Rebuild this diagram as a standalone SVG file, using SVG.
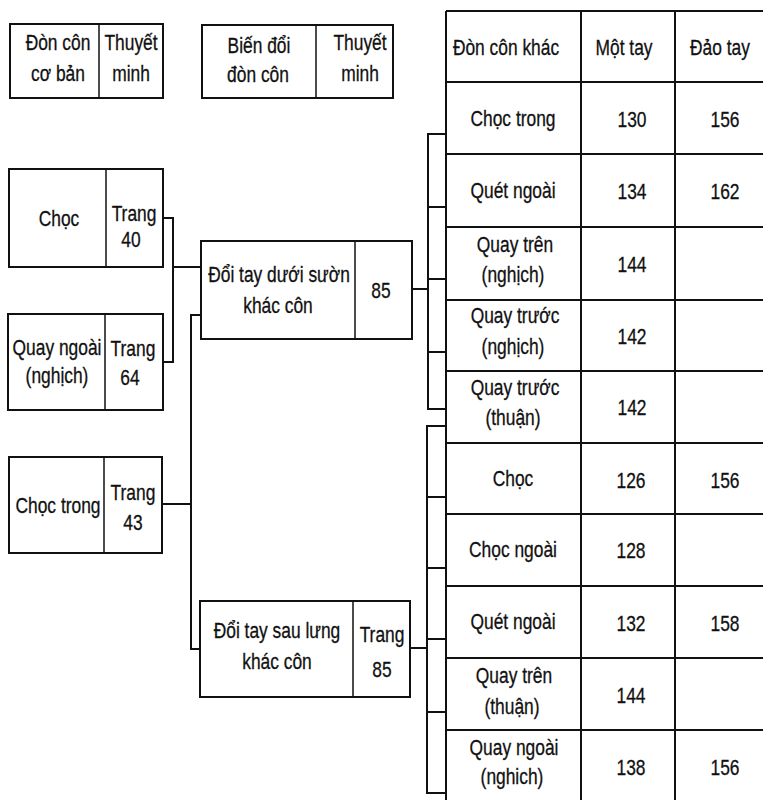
<svg xmlns="http://www.w3.org/2000/svg" width="763" height="800" viewBox="0 0 763 800">
<style>
  .box { fill: #fff; stroke: #111; stroke-width: 2; }
  .div { stroke: #111; stroke-width: 1.5; fill: none; }
  .ln { stroke: #111; stroke-width: 2; fill: none; }
  .conn { stroke: #111; stroke-width: 2; fill: none; stroke-linecap: square; }
  text { font-family: "Liberation Sans", Arial, sans-serif; font-size: 22px; fill: #111; stroke: #111; stroke-width: 0.3; text-anchor: middle;
         transform: scaleX(0.79); transform-box: fill-box; transform-origin: center; }
</style>
<rect width="763" height="800" fill="#fff"/>

<!-- header boxes -->
<g id="hdr-basic">
  <rect class="box" x="10" y="24" width="153" height="74"/>
  <line class="div" x1="99" y1="24" x2="99" y2="98"/>
  <text x="58" y="50">Đòn côn</text>
  <text x="58" y="81">cơ bản</text>
  <text x="131" y="50">Thuyết</text>
  <text x="131" y="81">minh</text>
</g>
<g id="hdr-variant">
  <rect class="box" x="202" y="25" width="191" height="73"/>
  <line class="div" x1="316" y1="25" x2="316" y2="98"/>
  <text x="259" y="53">Biến đổi</text>
  <text x="258" y="82">đòn côn</text>
  <text x="360" y="50">Thuyết</text>
  <text x="360" y="81">minh</text>
</g>

<!-- connectors -->
<g id="connectors">
  <polyline class="conn" points="163,218 173,218 173,362 163,362"/>
  <line class="conn" x1="173" y1="267" x2="201" y2="267"/>
  <line class="conn" x1="162" y1="504" x2="191" y2="504"/>
  <polyline class="conn" points="201,315 191,315 191,649 200,649"/>
  <line class="conn" x1="412" y1="289" x2="428" y2="289"/>
  <line class="conn" x1="428" y1="134" x2="428" y2="409"/>
  <line class="conn" x1="428" y1="134" x2="446" y2="134"/>
  <line class="conn" x1="428" y1="207" x2="446" y2="207"/>
  <line class="conn" x1="428" y1="279" x2="446" y2="279"/>
  <line class="conn" x1="428" y1="352" x2="446" y2="352"/>
  <line class="conn" x1="428" y1="409" x2="446" y2="409"/>
  <line class="conn" x1="410" y1="648" x2="427" y2="648"/>
  <line class="conn" x1="427" y1="426" x2="427" y2="793"/>
  <line class="conn" x1="427" y1="426" x2="446" y2="426"/>
  <line class="conn" x1="427" y1="497" x2="446" y2="497"/>
  <line class="conn" x1="427" y1="568" x2="446" y2="568"/>
  <line class="conn" x1="427" y1="639" x2="446" y2="639"/>
  <line class="conn" x1="427" y1="712" x2="446" y2="712"/>
  <line class="conn" x1="427" y1="793" x2="446" y2="793"/>
</g>

<!-- basic moves -->
<g id="n-choc">
  <rect class="box" x="9" y="169" width="154" height="98"/>
  <line class="div" x1="106" y1="169" x2="106" y2="267"/>
  <text x="59" y="226">Chọc</text>
  <text x="134" y="221">Trang</text>
  <text x="131" y="247">40</text>
</g>
<g id="n-quay-ngoai">
  <rect class="box" x="8" y="314" width="155" height="96"/>
  <line class="div" x1="105" y1="314" x2="105" y2="410"/>
  <text x="57" y="355">Quay ngoài</text>
  <text x="57" y="383">(nghịch)</text>
  <text x="133" y="356">Trang</text>
  <text x="130" y="385">64</text>
</g>
<g id="n-choc-trong">
  <rect class="box" x="9" y="457" width="153" height="96"/>
  <line class="div" x1="104" y1="457" x2="104" y2="553"/>
  <text x="58" y="513">Chọc trong</text>
  <text x="133" y="500">Trang</text>
  <text x="133" y="530">43</text>
</g>

<!-- variants -->
<g id="n-doi-tay-duoi-suon">
  <rect class="box" x="201" y="241" width="211" height="98"/>
  <line class="div" x1="355" y1="241" x2="355" y2="339"/>
  <text x="279" y="282">Đổi tay dưới sườn</text>
  <text x="278" y="313">khác côn</text>
  <text x="381" y="298">85</text>
</g>
<g id="n-doi-tay-sau-lung">
  <rect class="box" x="200" y="601" width="210" height="96"/>
  <line class="div" x1="353" y1="601" x2="353" y2="697"/>
  <text x="277" y="638">Đổi tay sau lưng</text>
  <text x="277" y="669">khác côn</text>
  <text x="382" y="642">Trang</text>
  <text x="382" y="677">85</text>
</g>

<!-- table -->
<g id="table">
  <g id="table-grid">
    <line class="ln" x1="446" y1="11" x2="763" y2="11"/>
    <line class="ln" x1="446" y1="82" x2="763" y2="82"/>
    <line class="ln" x1="446" y1="154" x2="763" y2="154"/>
    <line class="ln" x1="446" y1="227" x2="763" y2="227"/>
    <line class="ln" x1="446" y1="300" x2="763" y2="300"/>
    <line class="ln" x1="446" y1="371" x2="763" y2="371"/>
    <line class="ln" x1="446" y1="443" x2="763" y2="443"/>
    <line class="ln" x1="446" y1="514" x2="763" y2="514"/>
    <line class="ln" x1="446" y1="586" x2="763" y2="586"/>
    <line class="ln" x1="446" y1="658" x2="763" y2="658"/>
    <line class="ln" x1="446" y1="730" x2="763" y2="730"/>
    <line class="ln" x1="446" y1="11" x2="446" y2="800"/>
    <line class="ln" x1="581" y1="11" x2="581" y2="800"/>
    <line class="ln" x1="675" y1="11" x2="675" y2="800"/>
  </g>
  <g id="t-header">
    <text x="506" y="55">Đòn côn khác</text>
    <text x="624" y="55">Một tay</text>
    <text x="720" y="55">Đảo tay</text>
  </g>
  <g id="t-r1">
    <text x="513" y="126">Chọc trong</text>
    <text x="632" y="127">130</text>
    <text x="725" y="127">156</text>
  </g>
  <g id="t-r2">
    <text x="513" y="198">Quét ngoài</text>
    <text x="632" y="199">134</text>
    <text x="725" y="199">162</text>
  </g>
  <g id="t-r3">
    <text x="515" y="252">Quay trên</text>
    <text x="513" y="282">(nghịch)</text>
    <text x="632" y="272">144</text>
  </g>
  <g id="t-r4">
    <text x="515" y="323">Quay trước</text>
    <text x="513" y="354">(nghịch)</text>
    <text x="632" y="344">142</text>
  </g>
  <g id="t-r5">
    <text x="515" y="395">Quay trước</text>
    <text x="513" y="425">(thuận)</text>
    <text x="632" y="415">142</text>
  </g>
  <g id="t-r6">
    <text x="513" y="486">Chọc</text>
    <text x="631" y="488">126</text>
    <text x="725" y="488">156</text>
  </g>
  <g id="t-r7">
    <text x="513" y="557">Chọc ngoài</text>
    <text x="631" y="558">128</text>
  </g>
  <g id="t-r8">
    <text x="513" y="629">Quét ngoài</text>
    <text x="631" y="631">132</text>
    <text x="725" y="631">158</text>
  </g>
  <g id="t-r9">
    <text x="514" y="683">Quay trên</text>
    <text x="512" y="714">(thuận)</text>
    <text x="631" y="703">144</text>
  </g>
  <g id="t-r10">
    <text x="514" y="755">Quay ngoài</text>
    <text x="512" y="784">(nghich)</text>
    <text x="631" y="775">138</text>
    <text x="725" y="775">156</text>
  </g>
</g>
</svg>
